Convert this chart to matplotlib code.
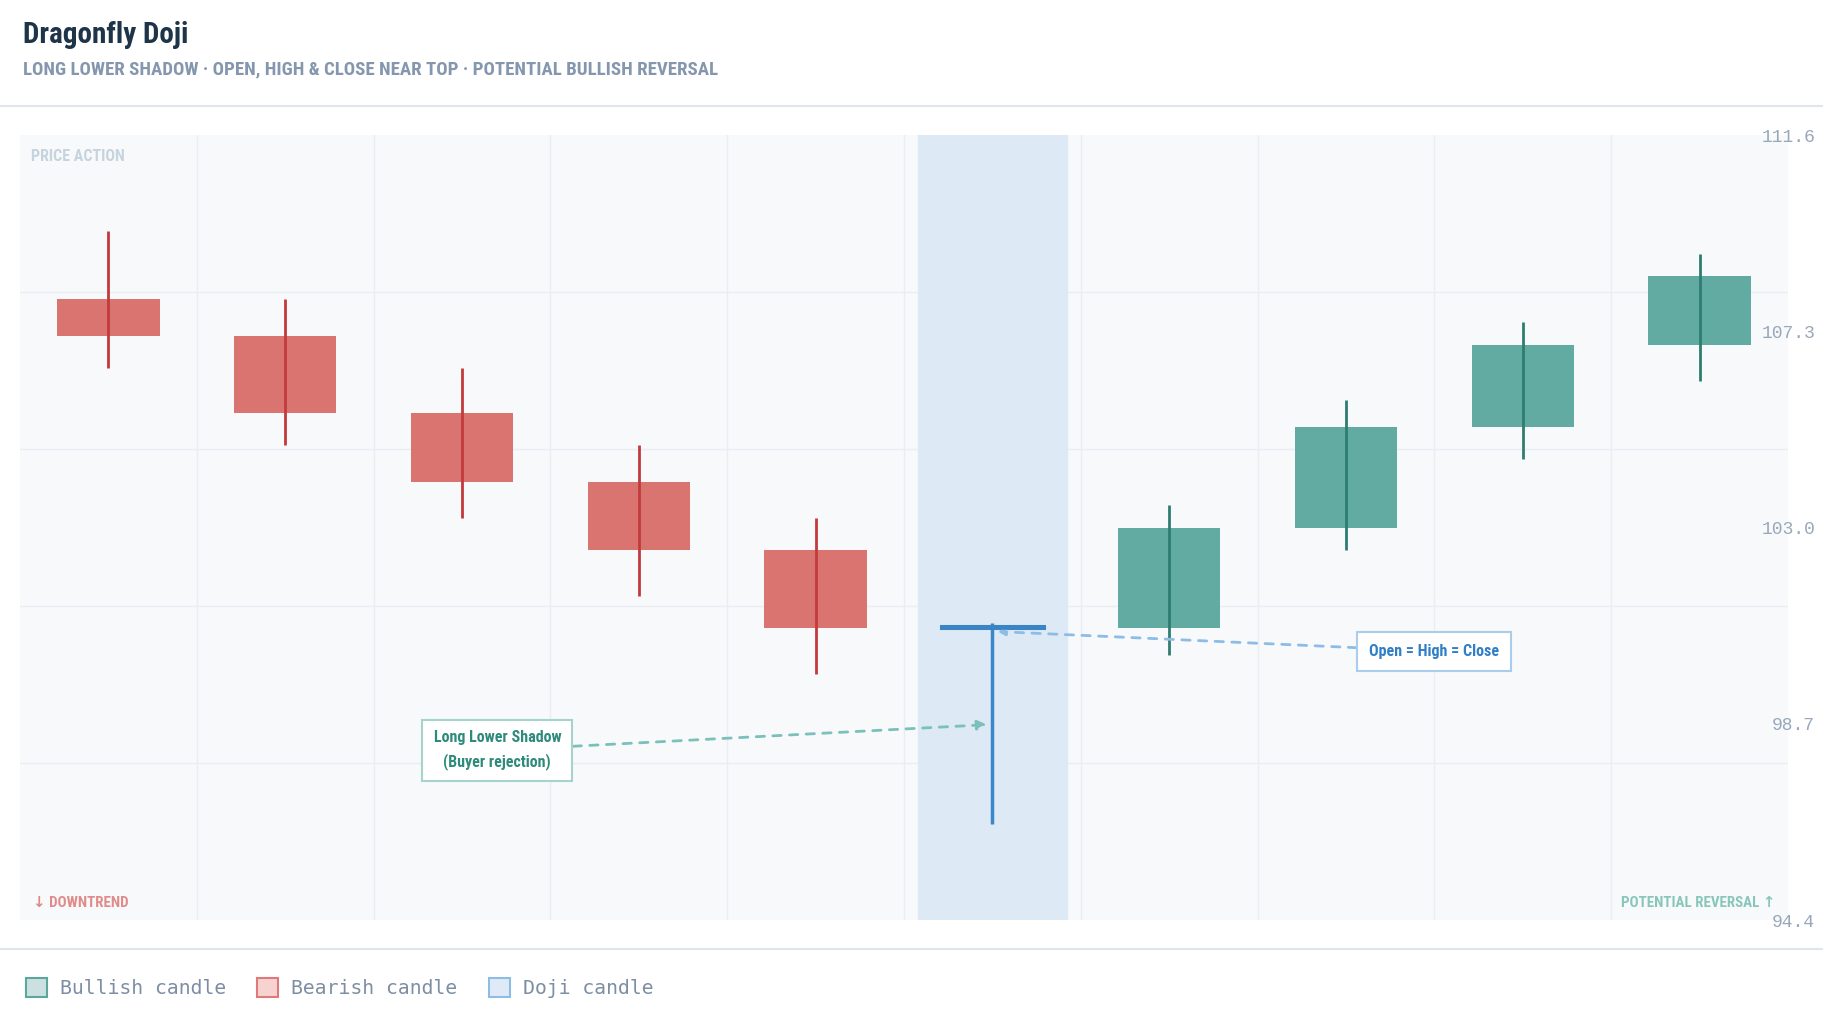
import numpy as np
import matplotlib
matplotlib.use('Agg')
import matplotlib.pyplot as plt
from matplotlib import font_manager as fm
from matplotlib.patches import Patch
from matplotlib.lines import Line2D

# OHLC values, one per session; index 5 is the dragonfly doji
opens = [108.0, 107.2, 105.5, 104.0, 102.5, 100.85, 100.8, 103.0, 105.2, 107.0]
highs = [109.5, 108.0, 106.5, 104.8, 103.2, 100.90, 103.5, 105.8, 107.5, 109.0]
lows = [106.5, 104.8, 103.2, 101.5, 99.8, 96.5, 100.2, 102.5, 104.5, 106.2]
closes = [107.2, 105.5, 104.0, 102.5, 100.8, 100.80, 103.0, 105.2, 107.0, 108.5]
doji_idx = 5
y_min, y_max = 94.4, 111.6
legend_labels = ['Bullish candle', 'Bearish candle', 'Doji candle']

# pick a condensed face if there is one
names = {f.name for f in fm.fontManager.ttflist}
cond = next((n for n in ['Roboto Condensed', 'Liberation Sans Narrow', 'Open Sans Condensed']
             if n in names), 'DejaVu Sans')
cond_fam = [cond, 'DejaVu Sans']
mono = 'DejaVu Sans Mono'

bear_fill, bear_wick = '#d97471', '#c23a3c'
bull_fill, bull_wick = '#62aba2', '#2f7d70'
doji_col = '#3a87c9'

W, H = 1824, 1018
fig = plt.figure(figsize=(W / 100, H / 100), dpi=100)
fig.patch.set_facecolor('white')
ax = fig.add_axes([20 / W, 1 - 920 / H, 1768 / W, 785 / H])
ax.set_facecolor('#f8f9fb')
for s in ax.spines.values():
    s.set_visible(False)

x = np.arange(len(opens))
o, c, h, l = map(np.array, (opens, closes, highs, lows))
bull = c > o
bear = c < o
normal = np.arange(len(o)) != doji_idx

# doji highlight band
ax.axvspan(doji_idx - 0.42, doji_idx + 0.42, color='#dde9f4', zorder=1)

body_lo = np.minimum(o, c)
body_h = np.abs(c - o)
m = bear & normal
ax.bar(x[m], body_h[m], bottom=body_lo[m], width=0.58, color=bear_fill, zorder=3)
ax.vlines(x[m], l[m], h[m], color=bear_wick, lw=2, zorder=4)
m = bull & normal
ax.bar(x[m], body_h[m], bottom=body_lo[m], width=0.58, color=bull_fill, zorder=3)
ax.vlines(x[m], l[m], h[m], color=bull_wick, lw=2, zorder=4)

# the doji itself
ax.vlines(x[doji_idx], l[doji_idx], h[doji_idx], color=doji_col, lw=2.5, zorder=4)
ax.bar(x[doji_idx], body_h[doji_idx], bottom=body_lo[doji_idx], width=0.58,
       color='#a9cbea', edgecolor='#3a84c6', lw=2.2, zorder=5)

ax.set_xlim(-0.5, len(opens) - 0.5)
ax.set_ylim(y_min, y_max)

# grid: 10 columns, 5 rows
ax.set_xticks([])
ax.set_xticks(np.arange(0.5, len(opens) - 0.5, 1), minor=True)
ax.set_yticks(np.linspace(y_min, y_max, 6)[1:-1], minor=True)
ax.grid(which='minor', color='#e9eef4', lw=1, zorder=0)
ax.set_axisbelow(True)

yt = np.linspace(y_min, y_max, 5)
ax.yaxis.tick_right()
ax.set_yticks(yt)
ax.set_yticklabels([f'{v:.1f}' for v in yt])
ax.tick_params(which='both', length=0)
ax.tick_params(axis='y', pad=19.5, labelsize=13, labelcolor='#98a8ba')
for lbl in ax.get_yticklabels():
    lbl.set_ha('right')
    lbl.set_family('Liberation Mono')

# annotations
ax.annotate('Long Lower Shadow\n(Buyer rejection)', xy=(4.97, 98.68), xytext=(2.2, 98.12),
            ha='center', va='center', fontsize=11.5, color='#2e8b7c', fontweight='bold',
            family=cond_fam, linespacing=1.6, zorder=6,
            bbox=dict(boxstyle='square,pad=0.7', fc='white', ec='#a6d4cd', lw=1.5),
            arrowprops=dict(arrowstyle='-|>', color='#7cc0bb', lw=2, linestyle=(0, (3, 3)),
                            shrinkA=0, shrinkB=0, mutation_scale=14))
ax.annotate('Open = High = Close', xy=(5.03, 100.72), xytext=(7.5, 100.29),
            ha='center', va='center', fontsize=11.5, color='#2f7ec6', fontweight='bold',
            family=cond_fam, zorder=6,
            bbox=dict(boxstyle='square,pad=0.75', fc='white', ec='#a9cdea', lw=1.5),
            arrowprops=dict(arrowstyle='-|>', color='#8dbde6', lw=2, linestyle=(0, (3, 3)),
                            shrinkA=0, shrinkB=0, mutation_scale=10))

ax.text(0.0062, 0.973, 'PRICE ACTION', transform=ax.transAxes, ha='left', va='center',
        fontsize=11.5, fontweight='bold', color='#c6d4df', family=cond_fam)
ax.text(0.0074, 0.022, '↓ DOWNTREND', transform=ax.transAxes, ha='left', va='center',
        fontsize=10.8, fontweight='bold', color='#e08a8a', family=cond_fam)
ax.text(0.9927, 0.022, 'POTENTIAL REVERSAL ↑', transform=ax.transAxes, ha='right', va='center',
        fontsize=10.8, fontweight='bold', color='#88c6bc', family=cond_fam)

# header
fig.text(23 / W, 1 - 35 / H, 'Dragonfly Doji', ha='left', va='center', fontsize=21,
         fontweight='bold', color='#1e3448', family=cond_fam)
fig.text(23 / W, 1 - 69 / H,
         'LONG LOWER SHADOW · OPEN, HIGH & CLOSE NEAR TOP · POTENTIAL BULLISH REVERSAL',
         ha='left', va='center', fontsize=13.6, fontweight='bold', color='#8497ae', family=cond_fam)
fig.add_artist(Line2D([0, 1], [1 - 106 / H] * 2, transform=fig.transFigure,
                      color='#dfe5ec', lw=1.5))
fig.add_artist(Line2D([0, 1], [1 - 949 / H] * 2, transform=fig.transFigure,
                      color='#dfe5ec', lw=1.5))

# legend
handles = [Patch(facecolor='#cde0e1', edgecolor='#5aa89b', lw=1.5),
           Patch(facecolor='#f6d2d1', edgecolor='#e07a7a', lw=1.5),
           Patch(facecolor='#dfeaf6', edgecolor='#8dbde3', lw=1.5)]
fig.legend(handles, legend_labels, loc='center left', bbox_to_anchor=(26 / W, 1 - 988 / H),
           ncol=3, frameon=False, prop={'family': mono, 'size': 14.2},
           handlelength=1.07, handleheight=1.07, handletextpad=0.66, columnspacing=1.57,
           borderpad=0, borderaxespad=0, labelcolor='#7d8ea3')

fig.savefig('out.png', dpi=100)
